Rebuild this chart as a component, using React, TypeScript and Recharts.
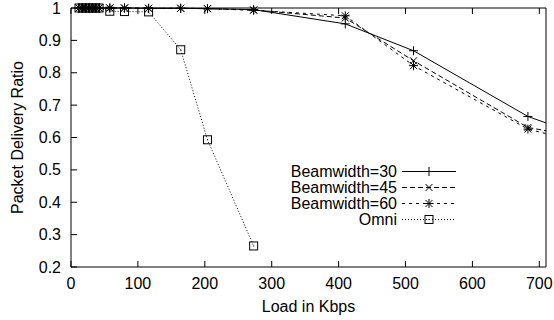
import { LineChart, Line, XAxis, YAxis, Legend } from 'recharts';

const LOAD = [12, 17, 22, 27, 32, 37, 42, 58, 80, 116, 164, 204, 273, 410, 512, 683, 710];
const BEAM30 = [1, 1, 1, 1, 1, 1, 1, 1, 1, 0.999, 0.999, 0.998, 0.995, 0.951, 0.868, 0.665, 0.645];
const BEAM45 = [1, 1, 1, 1, 1, 1, 1, 1, 1, 0.999, 0.999, 0.998, 0.994, 0.969, 0.837, 0.631, 0.621];
const BEAM60 = [1, 1, 1, 1, 1, 1, 1, 1, 1, 0.999, 0.999, 0.998, 0.993, 0.976, 0.822, 0.626, 0.612];
const OMNI = [1, 1, 1, 1, 1, 1, 1, 0.99, 0.989, 0.988, 0.871, 0.593, 0.265];

const X_TICKS = [0, 100, 200, 300, 400, 500, 600, 700];
const Y_TICKS = [0.2, 0.3, 0.4, 0.5, 0.6, 0.7, 0.8, 0.9, 1];

const data = LOAD.map((load, i) => ({
  load,
  b30: BEAM30[i],
  b45: BEAM45[i],
  b60: BEAM60[i],
  omni: i < OMNI.length ? OMNI[i] : null,
}));

type Shape = 'plus' | 'cross' | 'star' | 'square';

const SERIES: { key: string; name: string; dash?: string; shape: Shape }[] = [
  { key: 'b30', name: 'Beamwidth=30', shape: 'plus' },
  { key: 'b45', name: 'Beamwidth=45', dash: '5 3', shape: 'cross' },
  { key: 'b60', name: 'Beamwidth=60', dash: '3 4', shape: 'star' },
  { key: 'omni', name: 'Omni', dash: '1 2', shape: 'square' },
];

const FONT = '"Liberation Sans", Arial, Helvetica, sans-serif';
const FS = 16;
const TICK = 6;

function Marker({ shape, x, y }: { shape: Shape; x: number; y: number }) {
  const s = 4.5;
  const d = 3.5;
  const st = { stroke: '#000', strokeWidth: 1, fill: 'none' };
  if (shape === 'plus')
    return <path d={`M${x - s},${y}H${x + s}M${x},${y - s}V${y + s}`} {...st} />;
  if (shape === 'cross')
    return <path d={`M${x - d},${y - d}L${x + d},${y + d}M${x - d},${y + d}L${x + d},${y - d}`} {...st} />;
  if (shape === 'star')
    return (
      <path
        d={`M${x - s},${y}H${x + s}M${x},${y - s}V${y + s}M${x - d},${y - d}L${x + d},${y + d}M${x - d},${y + d}L${x + d},${y - d}`}
        {...st}
      />
    );
  return (
    <g>
      <rect x={x - 4} y={y - 4} width={8} height={8} {...st} />
      <rect x={x - 0.5} y={y - 0.5} width={1} height={1} fill="#000" />
    </g>
  );
}

const makeDot = (shape: Shape) => (props: any) => {
  const { cx, cy, index, payload, value } = props;
  if (cx == null || cy == null || value == null || payload.load > 700) return <g key={index} />;
  return <Marker key={index} shape={shape} x={cx} y={cy} />;
};

const textStyle = { fontFamily: FONT, fontSize: FS, fill: '#000' };

const BottomTick = (p: any) => (
  <g>
    <line x1={p.x} y1={p.y} x2={p.x} y2={p.y - TICK} stroke="#000" />
    <text x={p.x} y={p.y + 16} textAnchor="middle" dominantBaseline="central" style={textStyle}>
      {p.payload.value}
    </text>
  </g>
);
const LeftTick = (p: any) => (
  <g>
    <line x1={p.x} y1={p.y} x2={p.x + TICK} y2={p.y} stroke="#000" />
    <text x={p.x - 10} y={p.y} textAnchor="end" dominantBaseline="central" style={textStyle}>
      {p.payload.value}
    </text>
  </g>
);
const TopTick = (p: any) => <line x1={p.x} y1={p.y} x2={p.x} y2={p.y + TICK} stroke="#000" />;
const RightTick = (p: any) => <line x1={p.x} y1={p.y} x2={p.x - TICK} y2={p.y} stroke="#000" />;

function LegendBox() {
  return (
    <svg width={190} height={72} style={{ display: 'block' }}>
      {SERIES.map((s, i) => {
        const y = 11.5 + i * 16;
        return (
          <g key={s.key}>
            <text x={117} y={y} textAnchor="end" dominantBaseline="central" style={textStyle}>
              {s.name}
            </text>
            <line x1={122} y1={y} x2={176} y2={y} stroke="#000" strokeDasharray={s.dash} />
            <Marker shape={s.shape} x={149} y={y} />
          </g>
        );
      })}
    </svg>
  );
}

export default function App() {
  return (
    <div style={{ position: 'absolute', left: 0, top: 0, background: '#fff' }}>
      <LineChart width={554} height={320} data={data} margin={{ top: 0, right: 0, bottom: 0, left: 0 }}>
        <XAxis
          xAxisId="b"
          dataKey="load"
          type="number"
          domain={[0, 710]}
          ticks={X_TICKS}
          interval={0}
          height={53}
          tickSize={0}
          tickMargin={0}
          tick={BottomTick}
          axisLine={{ stroke: '#000' }}
          label={(p: any) => (
            <text
              x={p.viewBox.x + p.viewBox.width / 2}
              y={p.viewBox.y + 39}
              textAnchor="middle"
              dominantBaseline="central"
              style={textStyle}
            >
              Load in Kbps
            </text>
          )}
        />
        <XAxis
          xAxisId="t"
          orientation="top"
          dataKey="load"
          type="number"
          domain={[0, 710]}
          ticks={X_TICKS}
          interval={0}
          height={8}
          tickSize={0}
          tickMargin={0}
          tick={TopTick}
          axisLine={{ stroke: '#000' }}
        />
        <YAxis
          yAxisId="l"
          type="number"
          domain={[0.2, 1]}
          ticks={Y_TICKS}
          interval={0}
          width={71}
          tickSize={0}
          tickMargin={0}
          tick={LeftTick}
          axisLine={{ stroke: '#000' }}
          label={(p: any) => {
            const cx = p.viewBox.x + 17;
            const cy = p.viewBox.y + p.viewBox.height / 2;
            return (
              <text
                x={cx}
                y={cy}
                transform={`rotate(-90 ${cx} ${cy})`}
                textAnchor="middle"
                dominantBaseline="central"
                style={textStyle}
              >
                Packet Delivery Ratio
              </text>
            );
          }}
        />
        <YAxis
          yAxisId="r"
          orientation="right"
          type="number"
          domain={[0.2, 1]}
          ticks={Y_TICKS}
          interval={0}
          width={8}
          tickSize={0}
          tickMargin={0}
          tick={RightTick}
          axisLine={{ stroke: '#000' }}
        />
        {SERIES.map(s => (
          <Line
            key={s.key}
            xAxisId="b"
            yAxisId="l"
            dataKey={s.key}
            name={s.name}
            type="linear"
            stroke="#000"
            strokeWidth={1}
            strokeDasharray={s.dash}
            dot={makeDot(s.shape)}
            activeDot={false}
            connectNulls={false}
            isAnimationActive={false}
          />
        ))}
        <Legend
          layout="horizontal"
          align="center"
          verticalAlign="middle"
          content={() => <LegendBox />}
          wrapperStyle={{ left: 280, top: 160, width: 190, height: 72, bottom: 'auto', right: 'auto' }}
        />
      </LineChart>
    </div>
  );
}
